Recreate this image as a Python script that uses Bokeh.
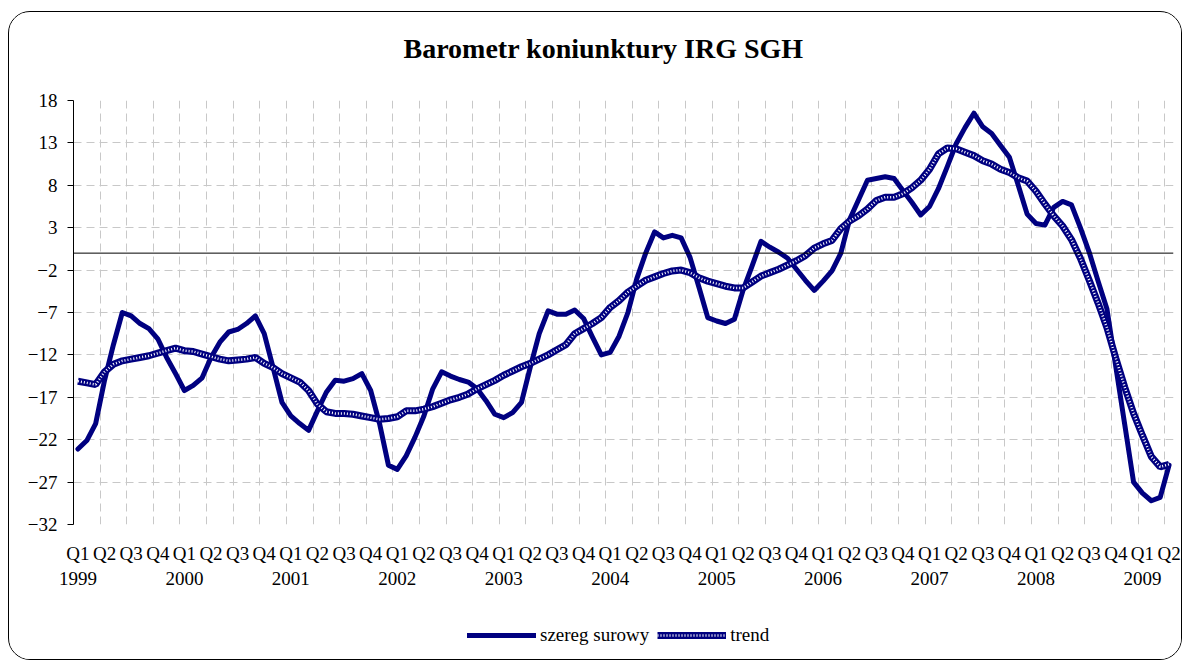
from bokeh.plotting import figure
from bokeh.layouts import column
from bokeh.models import (Range1d, FixedTicker, LinearAxis, Grid, Span, Title,
                          Legend, LegendItem, ColumnDataSource)
from bokeh.embed import file_html
from bokeh.resources import INLINE

# ---- data (monthly, Jan 1999 .. Apr 2009) ----
quarter_names = ["Q1", "Q2", "Q3", "Q4"]
years = ["1999", "2000", "2001", "2002", "2003", "2004",
         "2005", "2006", "2007", "2008", "2009"]

raw = [-23.1, -22.1, -20.1, -15.0, -10.8, -7.0, -7.4, -8.3, -8.9, -10.1, -12.3, -14.2,
       -16.2, -15.6, -14.7, -12.3, -10.5, -9.3, -9.0, -8.3, -7.4, -9.5, -13.5, -17.6,
       -19.2, -20.1, -20.9, -18.6, -16.4, -15.0, -15.1, -14.8, -14.2, -16.2, -20.1, -25.0,
       -25.5, -23.9, -21.7, -19.2, -16.0, -14.0, -14.5, -14.9, -15.2, -16.0, -17.4, -19.0,
       -19.4, -18.8, -17.6, -13.4, -9.5, -6.8, -7.2, -7.2, -6.7, -7.7, -9.9, -12.0,
       -11.7, -9.8, -7.0, -3.0, 0.0, 2.5, 1.8, 2.1, 1.8, -0.5, -4.0, -7.6,
       -8.0, -8.3, -7.8, -4.3, -1.5, 1.4, 0.7, 0.1, -0.6, -1.9, -3.2, -4.4,
       -3.3, -2.1, 0.0, 4.0, 6.3, 8.6, 8.8, 9.0, 8.8, 7.4, 6.0, 4.5,
       5.5, 7.6, 10.2, 12.9, 14.8, 16.5, 14.9, 14.1, 12.7, 11.3, 8.0, 4.6,
       3.5, 3.3, 5.4, 6.1, 5.7, 3.0, 0.1, -3.3, -6.6, -13.4, -20.2, -27.0,
       -28.3, -29.2, -28.8, -25.0]

trend = [-15.1, -15.3, -15.5, -14.0, -13.1, -12.7, -12.5, -12.3, -12.1, -11.8, -11.5, -11.2,
         -11.5, -11.6, -11.9, -12.2, -12.5, -12.7, -12.6, -12.5, -12.3, -13.0, -13.5, -14.2,
         -14.7, -15.2, -16.2, -17.8, -18.7, -18.9, -18.9, -19.0, -19.2, -19.4, -19.6, -19.5,
         -19.3, -18.6, -18.6, -18.4, -18.1, -17.7, -17.3, -17.0, -16.6, -16.0, -15.5, -15.0,
         -14.4, -13.9, -13.4, -13.0, -12.5, -12.0, -11.4, -10.8, -9.5, -8.9, -8.3, -7.6,
         -6.4, -5.6, -4.6, -3.9, -3.2, -2.8, -2.4, -2.1, -2.0, -2.3, -2.9, -3.3,
         -3.6, -3.9, -4.1, -4.1, -3.4, -2.7, -2.3, -1.9, -1.4, -0.9, -0.3, 0.6,
         1.1, 1.5, 2.9, 3.8, 4.4, 5.2, 6.2, 6.6, 6.6, 7.0, 7.7, 8.6,
         9.9, 11.7, 12.4, 12.3, 11.9, 11.5, 10.9, 10.5, 9.9, 9.5, 8.9, 8.5,
         7.3, 5.8, 4.4, 3.2, 1.6, -0.6, -3.2, -5.9, -8.8, -12.4, -15.8, -18.9,
         -21.5, -24.0, -25.2, -24.9]

y_ticks = [-32, -27, -22, -17, -12, -7, -2, 3, 8, 13, 18]
series_names = ["szereg surowy", "trend"]

months = list(range(len(raw)))
src = ColumnDataSource(dict(x=months, raw=raw, trend=trend))

FONT = "Liberation Serif"
NAVY = "#000080"
GRID = "#c8c8c8"


def draw_series(fig):
    r_raw = fig.line("x", "raw", source=src, line_color=NAVY, line_width=5,
                     line_join="round", line_cap="round")
    r_tr1 = fig.line("x", "trend", source=src, line_color=NAVY, line_width=7)
    r_tr2 = fig.line("x", "trend", source=src, line_color="white", line_width=2.5,
                     line_dash="1 2")
    return r_raw, r_tr1, r_tr2


p = figure(width=1172, height=590, title=None,
           x_range=Range1d(-0.5, len(raw) - 0.5), y_range=Range1d(-32, 18),
           x_axis_type=None, output_backend="svg", toolbar_location=None,
           min_border_left=64, min_border_right=8, min_border_top=88,
           min_border_bottom=78)
p.outline_line_color = None
p.background_fill_color = "white"
p.border_fill_color = "white"

# spacer between frame and title, then the title itself
p.add_layout(Title(text=" ", text_font_size="20px", standoff=13), "above")
p.add_layout(Title(text="Barometr koniunktury IRG SGH", align="left", offset=330,
                   text_font=FONT, text_font_style="bold", text_font_size="28px",
                   text_color="black", standoff=0), "above")

# y axis
yax = p.yaxis[0]
yax.ticker = FixedTicker(ticks=y_ticks)
yax.axis_line_color = "black"
yax.major_tick_line_color = "black"
yax.major_tick_out = 6
yax.major_tick_in = 0
yax.minor_tick_line_color = None
yax.major_label_standoff = 10
yax.major_label_text_font = FONT
yax.major_label_text_font_size = "19px"
yax.major_label_text_color = "black"

p.ygrid.ticker = FixedTicker(ticks=y_ticks)
p.ygrid.grid_line_color = GRID
p.ygrid.grid_line_dash = "8 5"
p.ygrid.grid_line_width = 1

vgrid_ticks = [-0.5 + 3 * k for k in range(len(raw) // 3 + 1)]
vg = Grid(dimension=0, ticker=FixedTicker(ticks=vgrid_ticks),
          grid_line_color=GRID, grid_line_dash="8 5", grid_line_width=1)
p.add_layout(vg)

# x axes: quarters and years
q_ticks = list(range(0, len(raw), 3))
q_over = {t: quarter_names[(t // 3) % 4] for t in q_ticks}
ax_q = LinearAxis(ticker=FixedTicker(ticks=q_ticks), major_label_overrides=q_over,
                  axis_line_color=None, major_tick_line_color=None,
                  minor_tick_line_color=None, major_label_standoff=12,
                  major_label_text_font=FONT, major_label_text_font_size="19px",
                  major_label_text_color="black")
p.add_layout(ax_q, "below")

y_tick_pos = list(range(0, len(raw), 12))
y_over = {t: years[i] for i, t in enumerate(y_tick_pos)}
ax_y = LinearAxis(ticker=FixedTicker(ticks=y_tick_pos), major_label_overrides=y_over,
                  axis_line_color=None, major_tick_line_color=None,
                  minor_tick_line_color=None, major_label_standoff=-1,
                  major_label_text_font=FONT, major_label_text_font_size="19px",
                  major_label_text_color="black")
p.add_layout(ax_y, "below")

# zero line (category axis crossing)
p.add_layout(Span(location=0, dimension="width", line_color="black", line_width=1))

draw_series(p)

# ---- legend strip (same series, drawn outside its visible range) ----
lg = figure(width=1172, height=57, x_range=Range1d(1000, 1001), y_range=Range1d(0, 1),
            x_axis_type=None, y_axis_type=None, output_backend="svg",
            toolbar_location=None, min_border=0)
lg.outline_line_color = None
lg.xgrid.visible = False
lg.ygrid.visible = False
lg.border_fill_color = "white"
l_raw, l_tr1, l_tr2 = draw_series(lg)
legend = Legend(items=[LegendItem(label=series_names[0], renderers=[l_raw]),
                       LegendItem(label=series_names[1], renderers=[l_tr1, l_tr2])],
                orientation="horizontal", location=(394, 13),
                padding=0, margin=0, spacing=8, glyph_width=69, glyph_height=20,
                label_standoff=4, label_text_font=FONT, label_text_font_size="19px",
                label_text_color="black", background_fill_alpha=0,
                border_line_color=None)
lg.add_layout(legend, "center")

layout = column(p, lg, spacing=0)
layout.styles = {"border": "1px solid #000000", "border-radius": "22px",
                 "margin-left": "8px", "margin-top": "11px", "overflow": "hidden",
                 "background": "white"}

open("out.html", "w").write(file_html(layout, INLINE))
